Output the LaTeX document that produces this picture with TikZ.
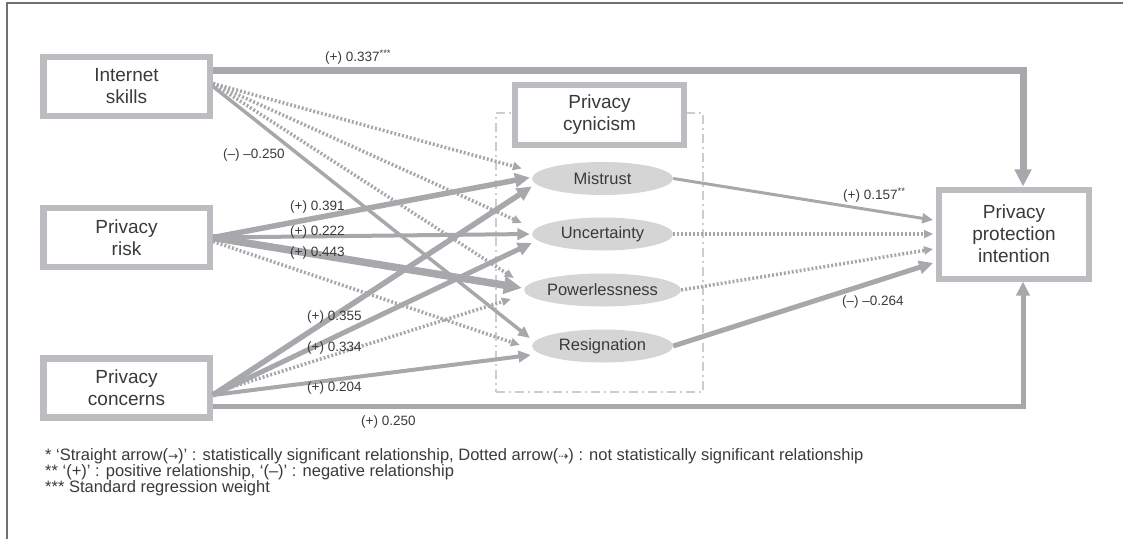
\documentclass[tikz,border=0pt]{standalone}
\usepackage{fontspec}
\setmainfont{Liberation Sans}
\newfontfamily\djv{DejaVu Sans}
\usetikzlibrary{arrows.meta,calc,shapes.geometric}
\definecolor{boxgray}{HTML}{BCBDC0}
\definecolor{arrgray}{HTML}{A7A8AB}
\definecolor{ellfill}{HTML}{D5D5D6}
\definecolor{dashc}{HTML}{CDCDCD}
\definecolor{txt}{HTML}{3A3A3A}
\definecolor{framec}{HTML}{707070}
\begin{document}
\begin{tikzpicture}[x=1pt,y=-1pt,
  box/.style={draw=boxgray,line width=6.5pt,fill=white,minimum width=166.5pt,minimum height=59pt,inner sep=0pt,align=center,text=txt,font=\fontsize{19}{22}\selectfont},
  ell/.style={ellipse,fill=ellfill,minimum width=141pt,minimum height=33pt,inner sep=0pt,text=txt,font=\fontsize{16.5}{19}\selectfont},
  sig/.style={draw=arrgray,line width=#1,-{Triangle[length=6pt 1.6,width=5pt 1.6]}},
  nsig/.style={draw=arrgray,line width=3.5pt,dash pattern=on 2pt off 2pt,-{Triangle[length=9pt,width=8pt]}},
  lbl/.style={text=txt,font=\fontsize{13.5}{16}\selectfont,inner sep=0pt,anchor=west},
  note/.style={text=txt,font=\fontsize{16.5}{18}\selectfont,inner sep=0pt,anchor=west},
]
\useasboundingbox (0,0) rectangle (1123,538);
\coordinate (fa) at (7,545);
\coordinate (fb) at (7,3);
\coordinate (fc) at (1130,3);
\draw[framec,line width=1.3pt] (fa) -- (fb) -- (fc);

% group frame
\node[draw=dashc,line width=1.5pt,dash pattern=on 9pt off 4pt on 2pt off 4pt,minimum width=207pt,minimum height=279pt,inner sep=0pt] (grp) at (599.5,252.5) {};

% boxes
\node[box] (is) at (126.5,86.5) {Internet\\skills};
\node[box] (pr) at (126.5,237.5) {Privacy\\risk};
\node[box] (pc) at (126.5,388) {Privacy\\concerns};
\node[box,line width=6pt,minimum width=169pt,minimum height=60pt] (cyn) at (599.5,115) {Privacy\\cynicism};
\node[box,line width=6pt,minimum width=150pt,minimum height=89pt] (ppi) at (1014,234) {Privacy\\protection\\intention};

% ellipses
\node[ell] (mis) at (602.5,178.5) {Mistrust};
\node[ell] (unc) at (602.5,234) {Uncertainty};
\node[ell] (pow) at (602.5,290) {Powerlessness};
\node[ell] (res) at (602.5,346) {Resignation};

% direct paths
\draw[sig=7pt] ($(is.east)+(0,-16.5)$) -| ($(ppi.north)+(9,0)$);
\draw[sig=5pt] ($(pc.east)+(0,18)$) -| ($(ppi.south)+(9,0)$);

% Internet skills
\draw[nsig] ($(is.east)+(0,-3)$) -- ($(mis.west)+(-10,-10)$);
\draw[nsig] ($(is.east)+(0,-3)$) -- ($(unc.west)+(-10,-11)$);
\draw[nsig] ($(is.east)+(0,-3)$) -- ($(pow.west)+(-10,-12)$);
\draw[sig=3.5pt] (is.east) -- ($(res.west)+(-2,-8)$);

% Privacy risk
\draw[sig=5.5pt] (pr.east) -- ($(mis.west)+(-2,-1)$);
\draw[sig=4pt] (pr.east) -- ($(unc.west)+(-2,0)$);
\draw[sig=7.5pt] (pr.east) -- ($(pow.west)+(-2,-2)$);
\draw[nsig] ($(pr.east)+(0,4)$) -- ($(res.west)+(-12,-1)$);

% Privacy concerns
\draw[nsig] ($(pc.east)+(0,5)$) -- ($(pow.west)+(-13,9)$);
\draw[sig=5.5pt] ($(pc.east)+(0,7)$) -- ($(mis.west)+(0,8)$);
\draw[sig=5pt] ($(pc.east)+(0,7)$) -- ($(unc.west)+(0,9)$);
\draw[sig=4pt] ($(pc.east)+(0,7)$) -- ($(res.west)+(-1,9)$);

% cynicism to intention
\draw[sig=3pt] (mis.east) -- ($(ppi.west)+(-3,-14)$);
\draw[nsig] (unc.east) -- ($(ppi.west)+(-3,0)$);
\draw[nsig] (pow.east) -- ($(ppi.west)+(-3,15)$);
\draw[sig=5pt] (res.east) -- ($(ppi.west)+(-3,29)$);

% labels
\node[lbl] (l1) at (325,57) {(+) 0.337\textsuperscript{***}};
\node[lbl] (l2) at (223,155) {(–) –0.250};
\node[lbl] (l3) at (290,207) {(+) 0.391};
\node[lbl] (l4) at (290,232) {(+) 0.222};
\node[lbl] (l5) at (290,253) {(+) 0.443};
\node[lbl] (l6) at (307,317) {(+) 0.355};
\node[lbl] (l7) at (307,348) {(+) 0.334};
\node[lbl] (l8) at (307,388) {(+) 0.204};
\node[lbl] (l9) at (361,422) {(+) 0.250};
\node[lbl] (l10) at (843,195) {(+) 0.157\textsuperscript{**}};
\node[lbl] (l11) at (842,302) {(–) –0.264};

% notes
\node[note] (n1) at (45,456) {* ‘Straight arrow({\djv\fontsize{12}{12}\selectfont →})’ : statistically significant relationship, Dotted arrow({\djv\fontsize{12}{12}\selectfont ⇢}) : not statistically significant relationship};
\node[note] (n2) at (45,472) {** ‘(+)’ : positive relationship, ‘(–)’ : negative relationship};
\node[note] (n3) at (45,488) {*** Standard regression weight};
\end{tikzpicture}
\end{document}
